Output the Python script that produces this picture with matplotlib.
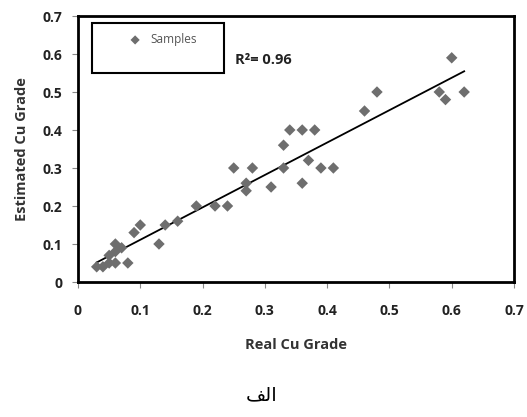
import numpy as np
import matplotlib
matplotlib.use("Agg")
import matplotlib.pyplot as plt
from matplotlib.patches import Rectangle

real = [0.03, 0.04, 0.05, 0.05, 0.06, 0.06, 0.06, 0.07, 0.08, 0.09, 0.10, 0.13, 0.14, 0.16,
        0.19, 0.22, 0.24, 0.25, 0.27, 0.27, 0.28, 0.31, 0.33, 0.33, 0.34, 0.36, 0.36, 0.37,
        0.38, 0.39, 0.41, 0.46, 0.48, 0.58, 0.59, 0.60, 0.62]
est = [0.04, 0.04, 0.05, 0.07, 0.05, 0.10, 0.08, 0.09, 0.05, 0.13, 0.15, 0.10, 0.15, 0.16,
       0.20, 0.20, 0.20, 0.30, 0.24, 0.26, 0.30, 0.25, 0.30, 0.36, 0.40, 0.40, 0.26, 0.32,
       0.40, 0.30, 0.30, 0.45, 0.50, 0.50, 0.48, 0.59, 0.50]
ticks = [0, 0.1, 0.2, 0.3, 0.4, 0.5, 0.6, 0.7]
tick_labels = ["0", "0.1", "0.2", "0.3", "0.4", "0.5", "0.6", "0.7"]
r2_text = "R²= 0.96"
legend_label = "Samples"
caption = "\uFED2\uFEDF\uFE8D"  # "الف" in shaped presentation forms

fig = plt.figure(figsize=(5.27, 4.17), dpi=100)
ax = fig.add_axes([78/527, 1-282/417, 436/527, 266/417])

x = np.array(real); y = np.array(est)
m, b = np.polyfit(x, y, 1)
xl = np.array([min(real), max(real)])
ax.plot(xl, m*xl + b, color="black", lw=1.3, zorder=2)
ax.scatter(x, y, marker="D", s=34, color="#6e6e6e", edgecolors="none", zorder=3)

ax.set_xlim(0, 0.7); ax.set_ylim(0, 0.7)
ax.set_xticks(ticks); ax.set_xticklabels(tick_labels)
ax.set_yticks(ticks); ax.set_yticklabels(tick_labels)
for s in ax.spines.values():
    s.set_linewidth(2.0); s.set_color("black")
ax.tick_params(direction="out", length=4, width=0.8, color="#888888", labelsize=10, pad=7)
for lab in ax.get_xticklabels() + ax.get_yticklabels():
    lab.set_fontweight("bold"); lab.set_family("Open Sans"); lab.set_color("#222222")
ax.xaxis.set_tick_params(pad=12)

ax.set_xlabel("Real Cu Grade", fontsize=10.5, fontweight="bold", family="Open Sans", color="#333333", labelpad=14)
ax.set_ylabel("Estimated Cu Grade", fontsize=10.5, fontweight="bold", family="Open Sans", color="#333333", labelpad=10)

# legend box (drawn manually to match the reference's large frame)
ax.add_patch(Rectangle((0.032, 0.786), 0.303, 0.188, transform=ax.transAxes, fill=False,
                       edgecolor="black", lw=1.5, zorder=4))
ax.scatter([0.131], [0.91], marker="D", s=22, color="#6e6e6e", edgecolors="none",
           transform=ax.transAxes, zorder=5)
ax.text(0.167, 0.91, legend_label, transform=ax.transAxes, va="center", ha="left",
        fontsize=8.5, family="Open Sans", color="#555555", zorder=5)

ax.text(0.252, 0.584, r2_text, va="center", fontsize=10.5, fontweight="bold", family="Open Sans", color="#222222")

fig.text(262/527, 1-395/417, caption, ha="center", va="center", fontsize=14, family="DejaVu Sans")

fig.savefig("out.png", dpi=100, facecolor="white")
